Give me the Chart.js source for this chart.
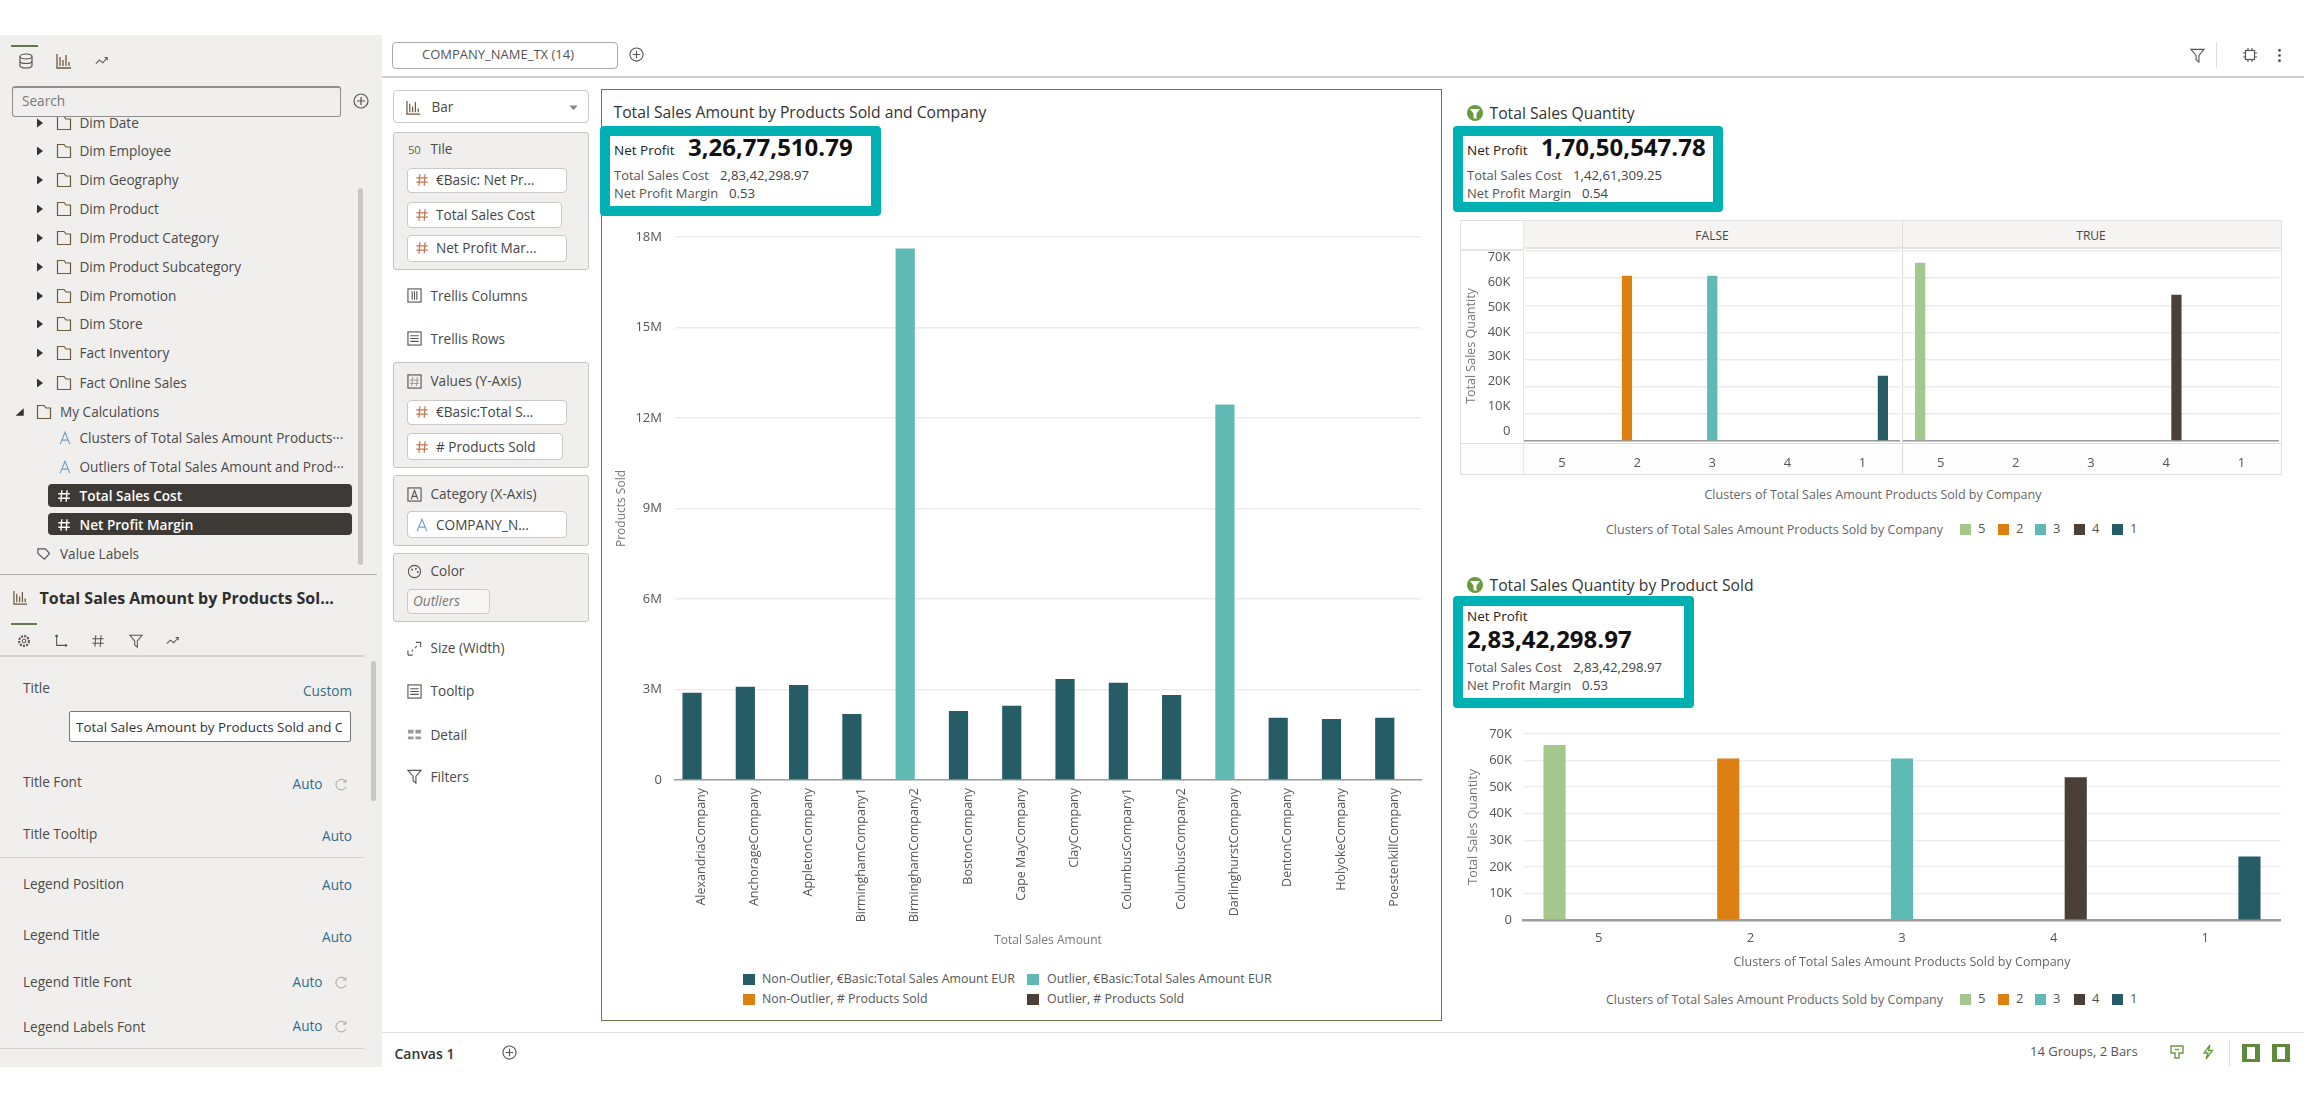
<!DOCTYPE html>
<html><head><meta charset="utf-8"><title>Total Sales Amount by Products Sold and Company</title>
<script src="https://cdn.jsdelivr.net/npm/chart.js@4/dist/chart.umd.min.js"></script>
<style>
html,body{margin:0;padding:0;background:#fff;width:2304px;height:1102px;overflow:hidden;font-family:"Open Sans","Noto Sans",sans-serif;color:#444}
#ui{position:absolute;left:0;top:0;width:2304px;height:1102px}
.a{position:absolute;box-sizing:border-box}
.t{position:absolute;white-space:nowrap;transform:translateY(-50%);line-height:1.2}
canvas{position:absolute}
svg{position:absolute;overflow:visible}
</style></head><body><div id="ui"></div>
<script>
// ---------- chart data ----------
const companies=['AlexandriaCompany','AnchorageCompany','AppletonCompany','BirminghamCompany1','BirminghamCompany2','BostonCompany','Cape MayCompany','ClayCompany','ColumbusCompany1','ColumbusCompany2','DarlinghurstCompany','DentonCompany','HolyokeCompany','PoestenkillCompany'];
const amountNonOutlier=[2890000,3090000,3150000,2190000,null,2290000,2460000,3350000,3220000,2820000,null,2060000,2020000,2060000];
const amountOutlier=[null,null,null,null,17620000,null,null,null,null,null,12450000,null,null,null];
// Products sold are far too small to show on the 18M scale of the reference.
const productsNonOutlier=[0,0,0,0,null,0,0,0,0,0,null,0,0,0];
const productsOutlier=[null,null,null,null,0,null,null,null,null,null,0,null,null,null];
const clusters=['5','2','3','4','1'];
const qtyFalse=[null,60900,60900,null,24000];
const qtyTrue=[65700,null,null,53900,null];
const qtyAll=[65800,60700,60700,53700,23900];
const mainTicks=[0,3000000,6000000,9000000,12000000,15000000,18000000];
const qtyTicks=[0,10000,20000,30000,40000,50000,60000,70000];
const mainLegend=['Non-Outlier, €Basic:Total Sales Amount EUR','Outlier, €Basic:Total Sales Amount EUR','Non-Outlier, # Products Sold','Outlier, # Products Sold'];
// ---------- colours ----------
const C={dark:'#265c66',teal:'#5fb9b4',orange:'#de8011',brown:'#4b4037',green:'#a2c98b',box:'#00b1b3',panel:'#f1efed',line:'#cfcdca',olive:'#64784f',blue:'#2f6d8c',hash:'#c8734e'};
const clusterColors=[C.green,C.orange,C.teal,C.brown,C.dark];

const ui=document.getElementById('ui');
function box(x,y,w,h,css){const d=document.createElement('div');d.className='a';d.style.cssText=`left:${x}px;top:${y}px;width:${w}px;height:${h}px;${css||''}`;ui.appendChild(d);return d;}
function t(x,y,s,css){const d=document.createElement('div');d.className='t';d.textContent=s;d.style.cssText=`left:${x}px;top:${y}px;font-size:13.6px;color:#4a4a4a;${css||''}`;ui.appendChild(d);return d;}
function tr(x,y,s,css){const d=t(0,y,s,css);d.style.left='auto';d.style.right=(2304-x)+'px';return d;}
function svg(x,y,s,inner){const e=document.createElementNS('http://www.w3.org/2000/svg','svg');e.setAttribute('width',s);e.setAttribute('height',s);e.setAttribute('viewBox','0 0 16 16');e.style.left=(x-s/2)+'px';e.style.top=(y-s/2)+'px';e.innerHTML=inner;ui.appendChild(e);return e;}
const st='fill="none" stroke="#555" stroke-width="1.2"';
const I={
 folder:`<path d="M1.5 14.5V1.5H8L10 4H14.5V14.5Z" fill="none" stroke="#6b5a3a" stroke-width="1.2"/>`,
 tri:`<path d="M4 2L12 8L4 14Z" fill="#333"/>`,
 triD:`<path d="M13 3V13H2Z" fill="#333"/>`,
 db:`<ellipse cx="8" cy="3.5" rx="6" ry="2.5" ${st}/><path d="M2 3.5V12.5C2 14 5 15 8 15S14 14 14 12.5V3.5M2 8C2 9.5 5 10.5 8 10.5S14 9.5 14 8" ${st}/>`,
 bars:`<path d="M1 1V15H15M4 13V4M7 13V7M10 13V2M13 13V9" fill="none" stroke="#6b5a3a" stroke-width="1.3"/>`,
 trend:`<path d="M1 11L5 7L9 10L14 4M11 4H14V7" ${st}/>`,
 plus:`<circle cx="8" cy="8" r="7" ${st}/><path d="M8 4V12M4 8H12" ${st}/>`,
 hash:`<path d="M5.5 1.5L4.5 14.5M11.5 1.5L10.5 14.5M1.5 5.5H14.5M1.5 10.5H14.5" fill="none" stroke="${C.hash}" stroke-width="1.4"/>`,
 hashW:`<path d="M5.5 1.5L4.5 14.5M11.5 1.5L10.5 14.5M1.5 5.5H14.5M1.5 10.5H14.5" fill="none" stroke="#fff" stroke-width="1.6"/>`,
 A:`<path d="M2.5 15L8 1.5L13.5 15M4.5 10.5H11.5" fill="none" stroke="#6f9ec4" stroke-width="1.3"/>`,
 tag:`<path d="M2 3H10L14.5 8L9 14L2 8Z" ${st}/>`,
 grid3:`<rect x="1" y="1" width="14" height="14" ${st}/><path d="M5.5 3.5V12.5M8 3.5V12.5M10.5 3.5V12.5" ${st}/>`,
 rows:`<rect x="1" y="1" width="14" height="14" ${st}/><path d="M3.5 5H12.5M3.5 8H12.5M3.5 11H12.5" ${st}/>`,
 valueI:`<rect x="1" y="1" width="14" height="14" ${st}/><path d="M6 3L5 13M11 3L10 13M3 6.5H13M3 10H13" fill="none" stroke="#999" stroke-width="1"/>`,
 catI:`<rect x="1" y="1" width="14" height="14" ${st}/><path d="M4.5 13L8 3.5L11.5 13M5.5 10H10.5" ${st}/>`,
 palette:`<circle cx="8" cy="8" r="6.5" ${st}/><circle cx="5.5" cy="6" r="1" fill="#555"/><circle cx="9.5" cy="5" r="1" fill="#555"/><circle cx="11.5" cy="8.5" r="1" fill="#555"/>`,
 size:`<path d="M1 15V10M1 15H6M9.5 1.5H14.5V6.5M5 11L6.5 9.5M8.5 7.5L10.5 5.5" ${st}/>`,
 detail:`<path d="M1 3H7V7H1ZM9 3H15V7H9ZM1 10H7V13H1ZM9 10H15V13H9Z" fill="#999"/>`,
 funnel:`<path d="M1 1.5H15L9.5 8V15L6.5 12.5V8Z" ${st}/>`,
 axes:`<path d="M3 1V13H15M3 1L1.5 3M3 1L4.5 3M15 13L13 11.5M15 13L13 14.5" ${st}/>`,
 gear:`<circle cx="8" cy="8" r="5.6" fill="none" stroke="#555" stroke-width="2.4" stroke-dasharray="2.4 1.3"/><circle cx="8" cy="8" r="2" ${st}/>`,
 refresh:`<path d="M13.5 11A6.5 6.5 0 1 1 13 4.5M13.5 1.5V5H10" fill="none" stroke="#999" stroke-width="1.1"/>`,
 chip:`<rect x="3.5" y="3.5" width="9" height="9" ${st}/><path d="M1 6H3.5M1 10H3.5M12.5 6H15M12.5 10H15M6 1V3.5M10 1V3.5M6 12.5V15M10 12.5V15" ${st}/>`,
 dots:`<circle cx="8" cy="2.5" r="1.4" fill="#444"/><circle cx="8" cy="8" r="1.4" fill="#444"/><circle cx="8" cy="13.5" r="1.4" fill="#444"/>`,
 greenFunnel:`<circle cx="8" cy="8" r="8" fill="#6a9a3f"/><path d="M3 4H13L9.5 8.5V14L6.5 13V8.5Z" fill="#fff"/>`,
 bolt:`<path d="M10 1L4 9H8L6 15L12.5 6.5H8.5Z" fill="none" stroke="#6a9a3f" stroke-width="1.3"/>`,
 shield:`<path d="M2 2H14V9H10V14H6V9H2Z" fill="none" stroke="#6a9a3f" stroke-width="1.4"/><path d="M6 5.5H10" stroke="#6a9a3f" stroke-width="1.4"/>`,
 caret:`<path d="M2 5H14L8 12Z" fill="#888"/>`
};

// ---------- left panel ----------
box(0,35,382,1032,`background:${C.panel}`);
box(11,45,27,2,`background:${C.olive}`);
svg(26,61,16,I.db);svg(64,61,16,I.bars);svg(102,61,14,I.trend);
const treeRows=[['Dim Employee',151],['Dim Geography',180],['Dim Product',209],['Dim Product Category',238],['Dim Product Subcategory',266.5],['Dim Promotion',295.5],['Dim Store',324],['Fact Inventory',353],['Fact Online Sales',383]];
t(79.5,122.5,'Dim Date');svg(63.5,122.5,16,I.folder);svg(40,122.5,12,I.tri);
box(11.5,85.5,329,31,`background:${C.panel};border:1px solid #8f8f8f;border-top-width:2px;border-radius:3px`);
t(22,101,'Search','color:#777');svg(360.5,100.5,16,I.plus);
treeRows.forEach(r=>{t(79.5,r[1],r[0]);svg(63.5,r[1],16,I.folder);svg(40,r[1],12,I.tri);});
t(60,412,'My Calculations');svg(44,412,16,I.folder);svg(20,412,12,I.triD);
t(79.5,438,'Clusters of Total Sales Amount Products···');svg(65,438,14,I.A);
t(79.5,467,'Outliers of Total Sales Amount and Prod···');svg(65,467,14,I.A);
box(48,484,304,23,'background:#3d3a36;border-radius:4px');t(79.5,496,'Total Sales Cost','color:#fff;font-weight:600');svg(64,496,14,I.hashW);
box(48,513,304,22,'background:#3d3a36;border-radius:4px');t(79.5,525,'Net Profit Margin','color:#fff;font-weight:600');svg(64,525,14,I.hashW);
t(60,553.5,'Value Labels');svg(43,553.5,15,I.tag);
box(358,188,5,377,'background:#c9c7c4;border-radius:3px');
box(0,574,377,1,'background:#b5b3b0');
svg(20,597,15,I.bars);
t(39.5,598.5,'Total Sales Amount by Products Sol...','font-size:16px;font-weight:700;color:#2e2e2e');
box(11,623,26,2,`background:${C.olive}`);
svg(24,641,14,I.gear);svg(60.5,641,14,I.axes);svg(98,641,14,`<path d="M5.5 1.5L4.5 14.5M11.5 1.5L10.5 14.5M1.5 5.5H14.5M1.5 10.5H14.5" ${st}/>`);svg(135.5,641,14,I.funnel);svg(173,641,14,I.trend);
box(0,655,364,2,'background:#d5d3d0');
box(370.5,661,5,140,'background:#c9c7c4;border-radius:3px');
t(23,688,'Title');tr(352,690.5,'Custom',`color:${C.blue}`);
box(69,711,282,31,'background:#fff;border:1px solid #777;border-radius:2px');
t(76,727,'Total Sales Amount by Products Sold and Company','font-size:13.4px;color:#333;width:266px;overflow:hidden;');
const propRows=[['Title Font',782,322.5,784,true],['Title Tooltip',834,352,836,false],['Legend Position',883.5,352,885,false],['Legend Title',935,352,937,false],['Legend Title Font',982,322.5,982,true],['Legend Labels Font',1027,322.5,1026,true]];
propRows.forEach(r=>{t(23,r[1],r[0]);tr(r[2],r[3],'Auto',`color:${C.blue}`);if(r[4])svg(341,r[3],13,I.refresh);});
box(0,857,364,1,'background:#d5d3d0');box(0,1048,364,1,'background:#d5d3d0');

// ---------- top and bottom bars ----------
box(382,76,1922,2,`background:${C.line}`);
box(391.5,42,226,27,'border:1px solid #aaa;border-radius:4px;background:#fff');
t(422,55,'COMPANY_NAME_TX (14)','font-size:13px;color:#555');
svg(636,54,15,I.plus);
svg(2197,55,15,I.funnel);box(2216,42,1,26,'background:#ddd');svg(2250,55,16,I.chip);svg(2279,55,15,I.dots);
box(382,1032,1922,1,'background:#e2e2e2');
t(394.5,1054,'Canvas 1','font-weight:600;color:#333;font-size:14px');svg(509,1052,15,I.plus);
t(2030,1052,'14 Groups, 2 Bars','font-size:13px;color:#555');
svg(2177,1052,16,I.shield);svg(2208,1052,16,I.bolt);box(2229,1040,1,26,'background:#ddd');
box(2242,1044,18,18,'border:3px solid #5f8a3c;border-right-width:5px;border-left-width:5px;background:#fff');
box(2272,1044,18,18,'border:3px solid #5f8a3c;border-left-width:5px;border-right-width:5px;background:#fff');

// ---------- grammar column ----------
function pill(y,h,w,s,icon){box(406.5,y,w,h,'background:#fff;border:1px solid #c9c9c9;border-radius:4px');t(436,y+h/2,s,'color:#444');svg(422,y+h/2,14,icon||I.hash);}
function group(y,h){box(393,y,196,h,`background:${C.panel};border:1px solid #c4c4c4;border-radius:3px`);}
box(393,90,196,33,'border:1px solid #c9c9c9;border-radius:4px;background:#fff');svg(413,107,15,I.bars);t(431.5,107,'Bar');svg(573,107,11,I.caret);
group(132,138);svg(414,149,14,`<text x="1" y="14" font-size="13" fill="#666" font-family="Open Sans">50</text>`);t(430.5,149,'Tile');
pill(167.5,25,160,'€Basic: Net Pr...');pill(201.5,26,155,'Total Sales Cost');pill(234.5,27,160,'Net Profit Mar...');
svg(414,295.5,15,I.grid3);t(430.5,295.5,'Trellis Columns');
svg(414,338.5,15,I.rows);t(430.5,338.5,'Trellis Rows');
group(361.5,106);svg(414,381,15,I.valueI);t(430.5,381,'Values (Y-Axis)');
pill(399.5,25,160,'€Basic:Total S...');pill(433,27,156,'# Products Sold');
group(475,71);svg(414,494,15,I.catI);t(430.5,494,'Category (X-Axis)');
pill(511,27,160,'COMPANY_N...',I.A);
group(553,69);svg(414,571,15,I.palette);t(430.5,571,'Color');
box(406.5,588.5,83,25,'background:#f7f6f5;border:1px solid #c9c9c9;border-radius:4px');t(413,601,'Outliers','font-style:italic;color:#777');
svg(414,648,15,I.size);t(430.5,648,'Size (Width)');
svg(414,691,15,I.rows);t(430.5,691,'Tooltip');
svg(414,734.5,15,I.detail);t(430.5,734.5,'Detail');
svg(414,776.5,15,I.funnel);t(430.5,776.5,'Filters');

// ---------- visual frames, titles and KPI boxes ----------
box(601,89,841,932,`border:1.5px solid ${C.olive}`);
t(613.5,112,'Total Sales Amount by Products Sold and Company','font-size:15.7px;color:#333');
function kpi(x,y,w,h,stacked,big,cost,margin){
 box(x,y,w,h,`background:#fff;border:10px solid ${C.box};border-radius:4px`);
 const tx=x+14;
 if(stacked){t(tx,y+20,'Net Profit','font-size:13.5px;color:#222');t(tx,y+43,big,'font-size:24px;font-weight:700;color:#111');}
 else{t(tx,y+24,'Net Profit','font-size:13.5px;color:#222');t(x+88,y+21,big,'font-size:24px;font-weight:700;color:#111');}
 const base=stacked?y+72:y+50;
 t(tx,base,'Total Sales Cost','font-size:13px;color:#555');t(tx+106,base,cost,'font-size:13.2px;color:#444');
 t(tx,base+18,'Net Profit Margin','font-size:13px;color:#555');t(tx+115,base+18,margin,'font-size:13.2px;color:#444');
}
kpi(600,126,281,90,false,'3,26,77,510.79','2,83,42,298.97','0.53');
svg(1475,113,16,I.greenFunnel);t(1489.5,112.5,'Total Sales Quantity','font-size:15.7px;color:#333');
kpi(1453,126,270,86,false,'1,70,50,547.78','1,42,61,309.25','0.54');
svg(1475,585,16,I.greenFunnel);t(1489.5,584.5,'Total Sales Quantity by Product Sold','font-size:15.7px;color:#333');
kpi(1453,596,241,112,true,'2,83,42,298.97','2,83,42,298.97','0.53');

// trellis frame
box(1460,220,822,255,'border:1.5px solid #e0e0e0;background:#fff');
box(1523,221,758,28,'background:#f5f4f3;border-bottom:2px solid #e4e4e4');
box(1461,443,820,31,'background:#fdfdfd;border-top:1.5px solid #e0e0e0');
box(1523,221,1,253,'background:#e8e8e8');box(1461,249,62,1.5,'background:#e4e4e4');
box(1902,221,1,253,'background:#dcdcdc');
t(1712,236,'FALSE','font-size:12px;color:#444;transform:translate(-50%,-50%)');
t(2091,236,'TRUE','font-size:12px;color:#444;transform:translate(-50%,-50%)');
t(1873,494,'Clusters of Total Sales Amount Products Sold by Company','font-size:12.5px;color:#666;transform:translate(-50%,-50%)');

// legends
function clusterLegend(y){
 t(1606,y,'Clusters of Total Sales Amount Products Sold by Company','font-size:12.5px;color:#666');
 const xs=[1960,1998,2035,2074,2112];
 clusters.forEach((c,i)=>{box(xs[i],y-5.5,11,11,`background:${clusterColors[i]}`);t(xs[i]+18,y,c,'font-size:13px;color:#555');});
}
clusterLegend(529);clusterLegend(999);
[[743,979,C.dark,0],[1027,979,C.teal,1],[743,999,C.orange,2],[1027,999,C.brown,3]].forEach(r=>{
 box(r[0],r[1]-5.5,11.5,11,`background:${r[2]}`);t(r[0]+(r[3]%2?20:19),r[1],mainLegend[r[3]],'font-size:12.4px;color:#555');
});

// ---------- charts ----------
const FONT='"Open Sans","Noto Sans",sans-serif';
const TICK='#555',TITLE='#777',GRID='#ececec',AXIS='#9c9c9c';
function mkCanvas(x,y,w,h){const c=document.createElement('canvas');c.width=w;c.height=h;c.style.cssText=`left:${x}px;top:${y}px;width:${w}px;height:${h}px`;ui.appendChild(c);return c;}
const base={responsive:false,animation:false,devicePixelRatio:1,plugins:{legend:{display:false},title:{display:false},tooltip:{enabled:false}}};
const fmtK=v=>v===0?'0':(v/1000)+'K';
const fit=(prop,val)=>s=>{s[prop]=val;};
const useTicks=list=>s=>{s.ticks=list.map(v=>({value:v}));};

// main chart: plot 675..1421 x 237..780
const barOpts={categoryPercentage:0.72,barPercentage:1,borderWidth:0};
new Chart(mkCanvas(610,205,831,747),{type:'bar',data:{labels:companies,datasets:[
 {label:mainLegend[0],data:amountNonOutlier,backgroundColor:C.dark,stack:'amount',...barOpts},
 {label:mainLegend[1],data:amountOutlier,backgroundColor:C.teal,stack:'amount',...barOpts},
 {label:mainLegend[2],data:productsNonOutlier,backgroundColor:C.orange,stack:'products',...barOpts},
 {label:mainLegend[3],data:productsOutlier,backgroundColor:C.brown,stack:'products',...barOpts}]},
 options:{...base,layout:{padding:{top:32,right:20,bottom:0,left:0}},scales:{
  x:{stacked:true,afterFit:fit('height',172),grid:{display:false,drawTicks:false},border:{color:AXIS,width:1.5},
     ticks:{minRotation:90,maxRotation:90,autoSkip:false,padding:8,color:TICK,font:{family:FONT,size:12.5}},
     title:{display:true,text:'Total Sales Amount',color:TITLE,font:{family:FONT,size:12},padding:{top:0,bottom:4}}},
  y:{stacked:true,min:0,max:18000000,afterFit:fit('width',65),grid:{color:GRID,lineWidth:1.5,drawTicks:false},border:{display:false},
     afterBuildTicks:useTicks(mainTicks),
     ticks:{padding:13,color:TICK,font:{family:FONT,size:13},callback:v=>v===0?'0':(v/1000000)+'M'},
     title:{display:true,text:'Products Sold',color:TITLE,font:{family:FONT,size:12},padding:{top:4,bottom:0}}}}}});

// grouped cluster charts
function clusterSets(values,pct){return clusters.map((c,i)=>({label:c,yAxisID:'y',data:values.map((v,k)=>k===i?v:null),backgroundColor:clusterColors[i],categoryPercentage:pct,barPercentage:1,borderWidth:0}));}
function trellis(x,w,axisW,values,withAxis){
 const scales={
  x:{afterFit:fit('height',40),grid:{display:false,drawTicks:false},border:{color:AXIS,width:1.5},ticks:{padding:14,color:TICK,font:{family:FONT,size:13}}},
  y:{min:0,max:70000,afterFit:s=>{s.width=0;s.paddingTop=0;s.paddingBottom=0;},afterBuildTicks:useTicks(qtyTicks),grid:{color:GRID,lineWidth:1.5,drawTicks:false},border:{display:false},ticks:{display:false}}};
 // In the reference the trellis tick labels sit on a slightly tighter pitch than the gridlines.
 if(withAxis){scales.yl={position:'left',min:-4040,max:72700,afterFit:s=>{s.width=axisW;s.paddingTop=0;s.paddingBottom=0;},afterBuildTicks:useTicks(qtyTicks),grid:{display:false,drawTicks:false},border:{display:false},
   ticks:{padding:14,color:TICK,font:{family:FONT,size:13},callback:fmtK},
   title:{display:true,text:'Total Sales Quantity',color:TITLE,font:{family:FONT,size:12.5},padding:{top:2,bottom:0}}};}
 new Chart(mkCanvas(x,240,w,241),{type:'bar',data:{labels:clusters,datasets:clusterSets(values,0.68)},options:{...base,layout:{padding:{top:11,right:0,bottom:0,left:0}},scales}});
}
trellis(1462,438,62.5,qtyFalse,true);
trellis(1902.5,376,0,qtyTrue,false);

// lower right chart: plot 1523..2281 x 729.6..920
new Chart(mkCanvas(1462,715,819,259),{type:'bar',data:{labels:clusters,datasets:clusterSets(qtyAll,0.73)},options:{...base,layout:{padding:{top:14.6,right:0,bottom:0,left:0}},scales:{
  x:{afterFit:fit('height',54),grid:{display:false,drawTicks:false},border:{color:AXIS,width:2.5},ticks:{padding:10,color:TICK,font:{family:FONT,size:13}},
     title:{display:true,text:'Clusters of Total Sales Amount Products Sold by Company',color:'#666',font:{family:FONT,size:12.5},padding:{top:0,bottom:4}}},
  y:{min:0,max:70000,afterFit:fit('width',61),afterBuildTicks:useTicks(qtyTicks),grid:{color:GRID,lineWidth:1.2,drawTicks:false},border:{display:false},ticks:{padding:11,color:TICK,font:{family:FONT,size:13},callback:fmtK},
     title:{display:true,text:'Total Sales Quantity',color:TITLE,font:{family:FONT,size:12.5},padding:{top:4,bottom:0}}}}}});
</script></body></html>
